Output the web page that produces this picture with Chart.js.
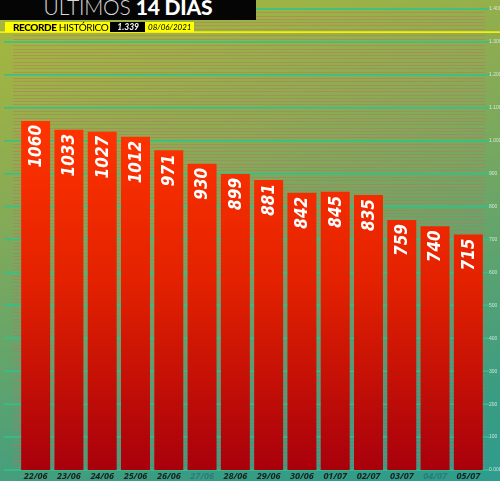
<!DOCTYPE html>
<html>
<head>
<meta charset="utf-8">
<script src="https://cdn.jsdelivr.net/npm/chart.js@4/dist/chart.umd.min.js"></script>
<style>
  html, body { margin: 0; padding: 0; }
  body {
    width: 500px; height: 481px; overflow: hidden; position: relative;
    background: linear-gradient(165deg, #a9b83b 0%, #8cac52 30%, #62a46c 60%, #3a9c82 85%, #2e9c8e 100%);
    font-family: Lato, "Open Sans", sans-serif;
  }
  #wrap { position: absolute; left: 0; top: 0; width: 500px; height: 481px; }
  #titulo {
    position: absolute; left: 0; top: 0; width: 256px; height: 20px;
    background: #050505; color: #fff; overflow: hidden;
    font-size: 21px; line-height: 14px; text-align: center; white-space: nowrap;
    letter-spacing: -0.2px;
  }
  #titulo span.fino { font-weight: 300; color: #d8d8d8; }
  #titulo span.grosso { font-weight: 900; }
  #recorde {
    position: absolute; left: 5px; top: 22px; height: 10px;
    display: flex; font-size: 10px; line-height: 10px; white-space: nowrap;
  }
  #recorde .a { background: #ffff00; color: #000; padding: 0 2px 0 8px; letter-spacing: -0.4px; }
  #recorde .a b { font-weight: 900; }
  #recorde .b { background: #000; color: #fff; font-style: italic; font-weight: bold; padding: 0 6px 0 7px; font-size: 8.5px; }
  #recorde .c { background: #ffff00; color: #000; font-style: italic; padding: 0 3px; font-size: 8px; }
</style>
</head>
<body>
<div id="wrap"><canvas id="grafico" width="500" height="481"></canvas></div>
<div id="titulo"><span class="fino">ÚLTIMOS</span> <span class="grosso">14 DIAS</span></div>
<div id="recorde">
  <div class="a"><b>RECORDE</b> HISTÓRICO</div>
  <div class="b">1.339</div>
  <div class="c">08/06/2021</div>
</div>
<script>
const dias = ['22/06', '23/06', '24/06', '25/06', '26/06', '27/06', '28/06',
              '29/06', '30/06', '01/07', '02/07', '03/07', '04/07', '05/07'];
const obitos = [1060, 1033, 1027, 1012, 971, 930, 899, 881, 842, 845, 835, 759, 740, 715];
const domingos = ['27/06', '04/07'];
const recorde = 1339;
const yTicks = [0, 100, 200, 300, 400, 500, 600, 700, 800, 900, 1000, 1100, 1200, 1300, 1400];
const yLabels = ['0.000', '100', '200', '300', '400', '500', '600', '700', '800', '900',
                 '1.000', '1.100', '1.200', '1.300', '1.400'];

// linhas de fundo (grade verde + listras finas) e linha do recorde
const fundo = {
    id: 'fundo',
    beforeDatasetsDraw(chart) {
        const ctx = chart.ctx;
        const y = chart.scales.y;
        const area = chart.chartArea;
        ctx.save();
        ctx.lineWidth = 1;
        ctx.strokeStyle = 'rgba(185, 115, 95, 0.5)';
        for (let v = 10; v < 1400; v += 10) {
            if (v % 100 === 0) continue;
            const py = Math.round(y.getPixelForValue(v)) + 0.5;
            ctx.beginPath();
            ctx.moveTo(13, py);
            ctx.lineTo(area.right, py);
            ctx.stroke();
        }
        ctx.strokeStyle = '#2fc28f';
        ctx.lineWidth = 1.5;
        yTicks.forEach(v => {
            const py = y.getPixelForValue(v);
            ctx.beginPath();
            ctx.moveTo(4, py);
            ctx.lineTo(area.right + 4, py);
            ctx.stroke();
        });
        const pr = y.getPixelForValue(recorde) + 3;
        ctx.strokeStyle = '#f4f000';
        ctx.lineWidth = 1.8;
        ctx.beginPath();
        ctx.moveTo(0, pr);
        ctx.lineTo(chart.width, pr);
        ctx.stroke();
        ctx.restore();
    }
};

// valores escritos na vertical dentro das barras
const rotulos = {
    id: 'rotulos',
    afterDatasetsDraw(chart) {
        const ctx = chart.ctx;
        const meta = chart.getDatasetMeta(0);
        ctx.save();
        ctx.fillStyle = '#ffffff';
        ctx.font = 'italic bold 17px "DejaVu Sans Condensed", "DejaVu Sans", sans-serif';
        ctx.textAlign = 'right';
        ctx.textBaseline = 'middle';
        meta.data.forEach((bar, i) => {
            ctx.save();
            ctx.translate(bar.x + 1, bar.y + 4);
            ctx.rotate(-Math.PI / 2);
            ctx.fillText(String(obitos[i]), 0, 0);
            ctx.restore();
        });
        ctx.restore();
    }
};

const ctx = document.getElementById('grafico').getContext('2d');
new Chart(ctx, {
    type: 'bar',
    data: {
        labels: dias,
        datasets: [{
            data: obitos,
            backgroundColor: (c) => {
                const chart = c.chart;
                const y = chart.scales.y;
                if (!chart.chartArea || !y) return '#e02000';
                const g = chart.ctx.createLinearGradient(0, y.getPixelForValue(1060), 0, y.getPixelForValue(0));
                g.addColorStop(0, '#ff3400');
                g.addColorStop(0.45, '#e42200');
                g.addColorStop(1, '#a8000c');
                return g;
            },
            borderWidth: 0,
            categoryPercentage: 0.87,
            barPercentage: 1
        }]
    },
    options: {
        responsive: false,
        animation: false,
        layout: { padding: { top: 9, left: 19, right: 0, bottom: 0 } },
        plugins: {
            legend: { display: false },
            tooltip: { enabled: false },
            title: { display: false }
        },
        scales: {
            x: {
                grid: { display: false, drawTicks: false },
                border: { display: false },
                ticks: {
                    padding: 1,
                    font: { size: 9, style: 'italic', weight: 'bold', family: '"Open Sans", sans-serif' },
                    color: (c) => domingos.includes(dias[c.index]) ? '#2a7c7a' : '#14221f',
                    maxRotation: 0,
                    autoSkip: false
                },
                afterFit(scale) { scale.height = 11; }
            },
            y: {
                position: 'right',
                min: 0,
                max: 1400,
                afterBuildTicks(scale) { scale.ticks = yTicks.map(v => ({ value: v })); },
                grid: { display: false, drawTicks: false },
                border: { display: false },
                ticks: {
                    padding: 4,
                    font: { size: 5 },
                    color: 'rgba(225, 245, 235, 0.85)',
                    callback: (v) => yLabels[yTicks.indexOf(v)]
                },
                afterFit(scale) { scale.width = 15; }
            }
        }
    },
    plugins: [fundo, rotulos]
});
</script>
</body>
</html>
